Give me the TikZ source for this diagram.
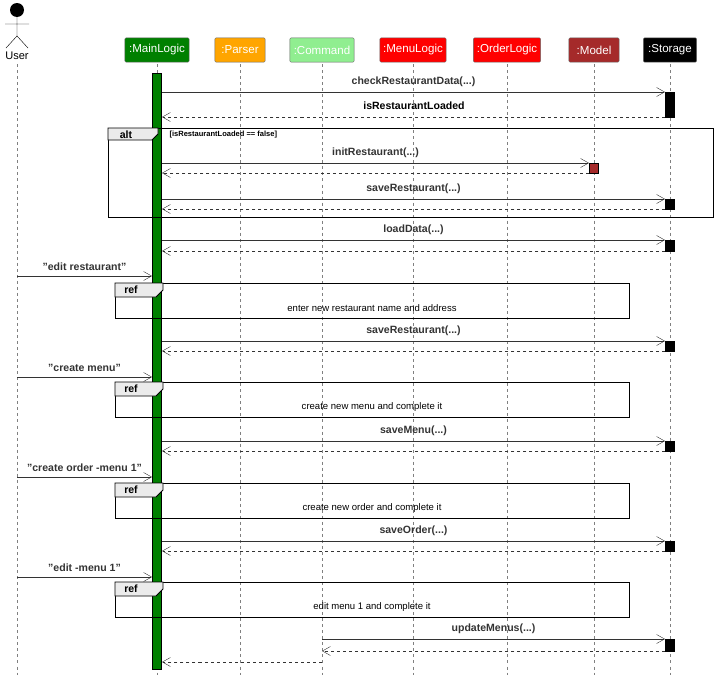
\documentclass[tikz,border=0pt]{standalone}
\usepackage{fontspec}
\setmainfont{Liberation Sans}
\usetikzlibrary{positioning, calc, arrows.meta}
\definecolor{mlgreen}{RGB}{0,128,0}
\definecolor{psorange}{RGB}{255,165,0}
\definecolor{cmgreen}{RGB}{144,238,144}
\definecolor{mdbrown}{RGB}{165,42,42}
\newcommand{\argdots}{(...)}
\newcommand{\qt}[1]{\symbol{34}#1\symbol{34}}
\tikzset{
  head/.style={draw=black!60, rounded corners=1pt, minimum height=24, text=white, font=\fontsize{11.5}{13}\selectfont, inner xsep=3pt},
  life/.style={dashed, black!50, very thin},
  call/.style={-{Straight Barb[length=8pt,width=9pt]}, black!80},
  back/.style={call, dashed},
  msg/.style={font=\bfseries\fontsize{10.5}{12}\selectfont, above=1.5pt},
  act/.style={draw=black, fill=black},
  frame/.style={draw=black, thick},
}
\begin{document}
\begin{tikzpicture}[x=0.35mm, y=-0.35mm]
      \useasboundingbox (0,0) rectangle (717,681);
      % participants
      \node[head, fill=mlgreen, minimum width=64] (ml) at (157,50) {:MainLogic};
      \node[head, fill=psorange, minimum width=50] (ps) at (240,50) {:Parser};
      \node[head, fill=cmgreen, minimum width=64] (cm) at (322,50) {:Command};
      \node[head, fill=red, minimum width=66] (mn) at (413,50) {:MenuLogic};
      \node[head, fill=red, minimum width=67] (or) at (507,50) {:OrderLogic};
      \node[head, fill=mdbrown, minimum width=50] (md) at (594,50) {:Model};
      \node[head, fill=black, minimum width=53] (st) at (670,50) {:Storage};
      % actor
      \fill (17,10) circle[radius=7];
      \draw (17,17) -- (17,36) (5,24) -- (29,24) (17,36) -- (6,48) (17,36) -- (28,48);
      \node[font=\fontsize{11}{12}\selectfont] (us) at (17,56) {User};
      \coordinate (user) at (17,50);
      % lifelines
      \foreach \p in {user, ml, ps, cm, mn, or, md, st}
        \draw[life] (\p |- 0,64) -- (\p |- 0,675);
      % activations
      \filldraw[draw=black, fill=mlgreen] ($(ml |- 0,73)+(-4.5,0)$) rectangle ($(ml |- 0,669)+(4.5,0)$);
      \foreach \a/\b in {92/117, 199/209, 240/251, 341/351, 441/451, 541/551, 639/651}
        \filldraw[act] ($(st |- 0,\a)+(-4.5,0)$) rectangle ($(st |- 0,\b)+(4.5,0)$);
      \filldraw[draw=black, fill=mdbrown] ($(md |- 0,163)+(-4.5,0)$) rectangle ($(md |- 0,173)+(4.5,0)$);
      % alt frame
      \draw[frame] (108,128) rectangle (713,217);
      \draw[frame, fill=black!8] (108,128) -- (158,128) -- (158,134) -- (152,140) -- (108,140) -- cycle;
      \node[font=\bfseries\fontsize{10.5}{12}\selectfont] at (126,134.5) {alt};
      \node[font=\bfseries\fontsize{7.5}{9}\selectfont, anchor=west] at (166,134.5) {[isRestaurantLoaded == false]};
      % ref frames
      \foreach \t/\txt in {283/enter new restaurant name and address, 382/create new menu and complete it, 483/create new order and complete it, 582/edit menu 1 and complete it} {
        \draw[frame] (115,\t) rectangle (629,\t+35);
        \draw[frame, fill=black!8] (115,\t) -- (163,\t) -- (163,\t+7) -- (156,\t+14) -- (115,\t+14) -- cycle;
        \node[font=\bfseries\fontsize{10.5}{12}\selectfont] at (131,\t+7) {ref};
        \node[font=\fontsize{9.5}{11}\selectfont] at (372,\t+25) {\txt};
      }
      % messages to storage
      \foreach \a/\b/\txt in {92/117/checkRestaurantData, 199/209/saveRestaurant, 240/251/loadData, 341/351/saveRestaurant, 441/451/saveMenu, 541/551/saveOrder} {
        \draw[call] ($(ml |- 0,\a)+(5,0)$) -- node[msg] {\txt\argdots} ($(st |- 0,\a)+(-5,0)$);
        \draw[back] ($(st |- 0,\b)+(-5,0)$) -- ($(ml |- 0,\b)+(5,0)$);
      }
      \node[msg] at (414,115) {isRestaurantLoaded};
      \draw[call] ($(ml |- 0,163)+(5,0)$) -- node[msg] {initRestaurant\argdots} ($(md |- 0,163)+(-5,0)$);
      \draw[back] ($(md |- 0,173)+(-5,0)$) -- ($(ml |- 0,173)+(5,0)$);
      % user messages
      \foreach \y/\txt in {276/edit restaurant, 377/create menu, 477/create order -menu 1, 577/edit -menu 1}
        \draw[call] (user |- 0,\y) -- node[msg] {\qt{\txt}} ($(ml |- 0,\y)+(-5,0)$);
      % command
      \draw[call] (cm |- 0,639) -- node[msg] {updateMenus\argdots} ($(st |- 0,639)+(-5,0)$);
      \draw[back] ($(st |- 0,651)+(-5,0)$) -- (cm |- 0,651);
      \draw[back] (cm |- 0,662) -- ($(ml |- 0,662)+(5,0)$);
\end{tikzpicture}
\end{document}
